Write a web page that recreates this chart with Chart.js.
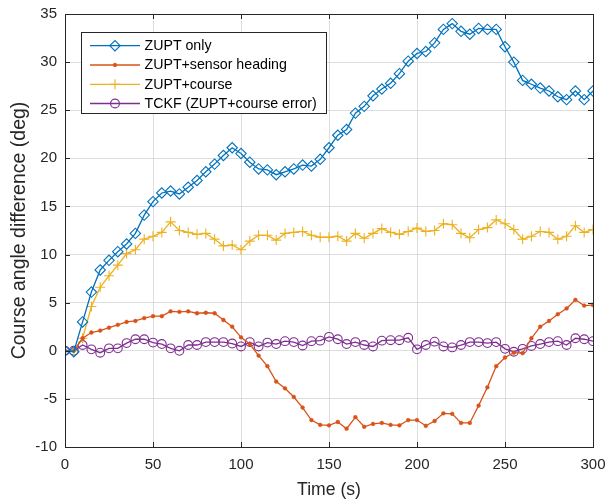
<!DOCTYPE html>
<html>
<head>
<meta charset="utf-8">
<script src="https://cdn.jsdelivr.net/npm/chart.js@4.4.1/dist/chart.umd.min.js"></script>
<style>
  html, body { margin: 0; padding: 0; background: #ffffff; }
  #wrap { width: 608px; height: 501px; position: relative; }
</style>
</head>
<body>
<div id="wrap"><canvas id="c" width="608" height="501"></canvas></div>
<script>
const timeS = [0,5,10,15,20,25,30,35,40,45,50,55,60,65,70,75,80,85,90,95,
  100,105,110,115,120,125,130,135,140,145,150,155,160,165,170,175,180,185,190,195,
  200,205,210,215,220,225,230,235,240,245,250,255,260,265,270,275,280,285,290,295,300];

const zuptOnly = [0,-0.1,3.0,6.1,8.4,9.4,10.3,11.1,12.2,14.1,15.5,16.4,16.6,16.3,17.0,17.7,18.6,19.4,20.3,21.1,
  20.5,19.6,18.9,18.8,18.3,18.6,18.9,19.3,19.2,19.9,21.1,22.4,23.0,24.7,25.4,26.5,27.2,27.8,28.8,30.1,
  30.9,31.1,32.0,33.4,34.0,33.2,32.9,33.5,33.4,33.4,31.6,30.0,28.1,27.7,27.3,27.0,26.4,26.1,27.0,26.1,27.0];

const zuptSensor = [0,0,1.3,1.9,2.1,2.4,2.7,3.0,3.1,3.4,3.6,3.6,4.1,4.05,4.1,3.9,3.95,3.9,3.2,2.5,
  1.4,0.7,-0.5,-1.6,-3.2,-3.9,-4.8,-5.9,-7.2,-7.7,-7.75,-7.4,-8.1,-6.9,-7.9,-7.6,-7.5,-7.7,-7.75,-7.2,
  -7.2,-7.8,-7.3,-6.5,-6.55,-7.5,-7.5,-5.7,-3.8,-1.6,-0.7,-0.2,-0.25,1.3,2.5,3.1,3.8,4.4,5.3,4.7,4.75];

const zuptCourse = [0,0,1.3,4.6,6.6,7.8,8.9,10.1,10.5,11.6,11.9,12.3,13.4,12.5,12.3,12.1,12.2,11.6,10.9,11.0,
  10.5,11.4,12.0,12.0,11.5,12.2,12.3,12.4,12.0,11.8,11.8,11.9,11.4,12.2,11.7,12.2,12.7,12.3,12.1,12.4,
  12.75,12.4,12.5,13.2,13.1,12.2,11.75,12.6,12.8,13.6,13.2,12.6,11.6,11.9,12.4,12.3,11.6,11.9,13.0,12.3,12.6];

const tckf = [0,0,0.6,0.15,-0.2,0.25,0.25,0.8,1.2,1.2,0.85,0.7,0.25,0,0.6,0.6,0.9,0.9,0.9,0.75,
  0.45,0.9,0.45,0.85,0.7,1.0,0.9,0.55,1.0,1.05,1.45,1.2,0.7,0.9,0.6,0.45,1.05,1.1,1.1,1.35,
  0.15,0.6,0.95,0.45,0.35,0.6,0.9,0.9,0.8,0.9,0.2,-0.1,0.2,0.5,0.7,0.9,1.0,0.6,1.3,1.2,1.0];

const seriesNames = ['ZUPT only','ZUPT+sensor heading','ZUPT+course','TCKF (ZUPT+course error)'];
const xTicks = [0,50,100,150,200,250,300];
const yTicks = [-10,-5,0,5,10,15,20,25,30,35];

const FONT = '"Liberation Sans", Arial, Helvetica, sans-serif';
const AXC = '#262626';
const colors = ['#0072BD','#D95319','#EDB120','#7E2F8E'];

function pts(vals) { return timeS.map((t, i) => ({x: t, y: vals[i]})); }

const ds = [
  {label: seriesNames[0], data: pts(zuptOnly), borderColor: colors[0], backgroundColor: 'rgba(0,0,0,0)',
   pointStyle: 'rectRot', pointRadius: 5.2, pointBorderColor: colors[0], pointBackgroundColor: 'rgba(0,0,0,0)', pointBorderWidth: 1.1},
  {label: seriesNames[1], data: pts(zuptSensor), borderColor: colors[1], backgroundColor: colors[1],
   pointStyle: 'circle', pointRadius: 1.9, pointBorderColor: colors[1], pointBackgroundColor: colors[1], pointBorderWidth: 0.5},
  {label: seriesNames[2], data: pts(zuptCourse), borderColor: colors[2], backgroundColor: 'rgba(0,0,0,0)',
   pointStyle: 'cross', pointRadius: 5, pointBorderColor: colors[2], pointBackgroundColor: 'rgba(0,0,0,0)', pointBorderWidth: 1.1},
  {label: seriesNames[3], data: pts(tckf), borderColor: colors[3], backgroundColor: 'rgba(0,0,0,0)',
   pointStyle: 'circle', pointRadius: 4.4, pointBorderColor: colors[3], pointBackgroundColor: 'rgba(0,0,0,0)', pointBorderWidth: 1.1}
].map(d => Object.assign(d, {borderWidth: 1.3, fill: false, tension: 0, pointHoverRadius: d.pointRadius}));

const boxPlugin = {
  id: 'matlabBox',
  afterDraw(chart) {
    const {ctx, chartArea: a, scales: {x, y}} = chart;
    ctx.save();
    ctx.strokeStyle = AXC;
    ctx.lineWidth = 1;
    const L = 5;
    ctx.beginPath();
    xTicks.forEach(v => {
      const px = Math.round(x.getPixelForValue(v)) + 0.5;
      ctx.moveTo(px, a.bottom); ctx.lineTo(px, a.bottom - L);
      ctx.moveTo(px, a.top); ctx.lineTo(px, a.top + L);
    });
    yTicks.forEach(v => {
      const py = Math.round(y.getPixelForValue(v)) + 0.5;
      ctx.moveTo(a.left, py); ctx.lineTo(a.left + L, py);
      ctx.moveTo(a.right, py); ctx.lineTo(a.right - L, py);
    });
    ctx.stroke();
    ctx.strokeRect(Math.round(a.left) + 0.5, Math.round(a.top) + 0.5,
                   Math.round(a.right - a.left), Math.round(a.bottom - a.top));
    ctx.restore();

    // legend
    const bx = 81.5, by = 32.5, bw = 245, bh = 81;
    ctx.save();
    ctx.fillStyle = '#ffffff';
    ctx.fillRect(bx, by, bw, bh);
    ctx.strokeStyle = AXC;
    ctx.lineWidth = 1;
    ctx.strokeRect(bx, by, bw, bh);
    const rowY = [45.7, 65, 84.3, 103.5];
    chart.data.datasets.forEach((d, i) => {
      const yy = rowY[i];
      ctx.strokeStyle = d.borderColor;
      ctx.lineWidth = d.borderWidth;
      ctx.beginPath(); ctx.moveTo(90, yy); ctx.lineTo(140, yy); ctx.stroke();
      ctx.strokeStyle = d.pointBorderColor;
      ctx.fillStyle = d.pointBackgroundColor;
      ctx.lineWidth = d.pointBorderWidth;
      Chart.helpers.drawPoint(ctx, {pointStyle: d.pointStyle, radius: d.pointRadius, rotation: 0, borderWidth: d.pointBorderWidth}, 115, yy);
      ctx.fillStyle = '#000000';
      ctx.font = '14.2px ' + FONT;
      ctx.textBaseline = 'middle';
      ctx.textAlign = 'left';
      ctx.fillText(d.label, 144.5, yy + 0.5);
    });
    ctx.restore();
  }
};

new Chart(document.getElementById('c'), {
  type: 'line',
  data: {datasets: ds},
  options: {
    responsive: false,
    animation: false,
    devicePixelRatio: 1,
    layout: {padding: {left: 0, top: 14, right: 15, bottom: 0}},
    plugins: {legend: {display: false}, tooltip: {enabled: false}},
    scales: {
      x: {
        type: 'linear', min: 0, max: 300,
        afterBuildTicks(s) { s.ticks = xTicks.map(v => ({value: v})); },
        afterFit(s) { s.height = 54; s.paddingLeft = 0; s.paddingRight = 0; },
        grid: {color: '#dedede', lineWidth: 1, drawTicks: false},
        border: {display: false},
        ticks: {color: AXC, font: {family: FONT, size: 15}, padding: 9, maxRotation: 0, autoSkip: false},
        title: {display: true, text: 'Time (s)', color: AXC, font: {family: FONT, size: 17.6}, padding: {top: 0, bottom: 0}}
      },
      y: {
        type: 'linear', min: -10, max: 35,
        afterBuildTicks(s) { s.ticks = yTicks.map(v => ({value: v})); },
        afterFit(s) { s.width = 65; s.paddingTop = 0; s.paddingBottom = 0; },
        grid: {color: '#dedede', lineWidth: 1, drawTicks: false},
        border: {display: false},
        ticks: {color: AXC, font: {family: FONT, size: 15}, padding: 8, autoSkip: false},
        title: {display: true, text: 'Course angle difference (deg)', color: AXC, font: {family: FONT, size: 19.5}, padding: {top: 8, bottom: 0}}
      }
    }
  },
  plugins: [boxPlugin]
});
</script>
</body>
</html>
